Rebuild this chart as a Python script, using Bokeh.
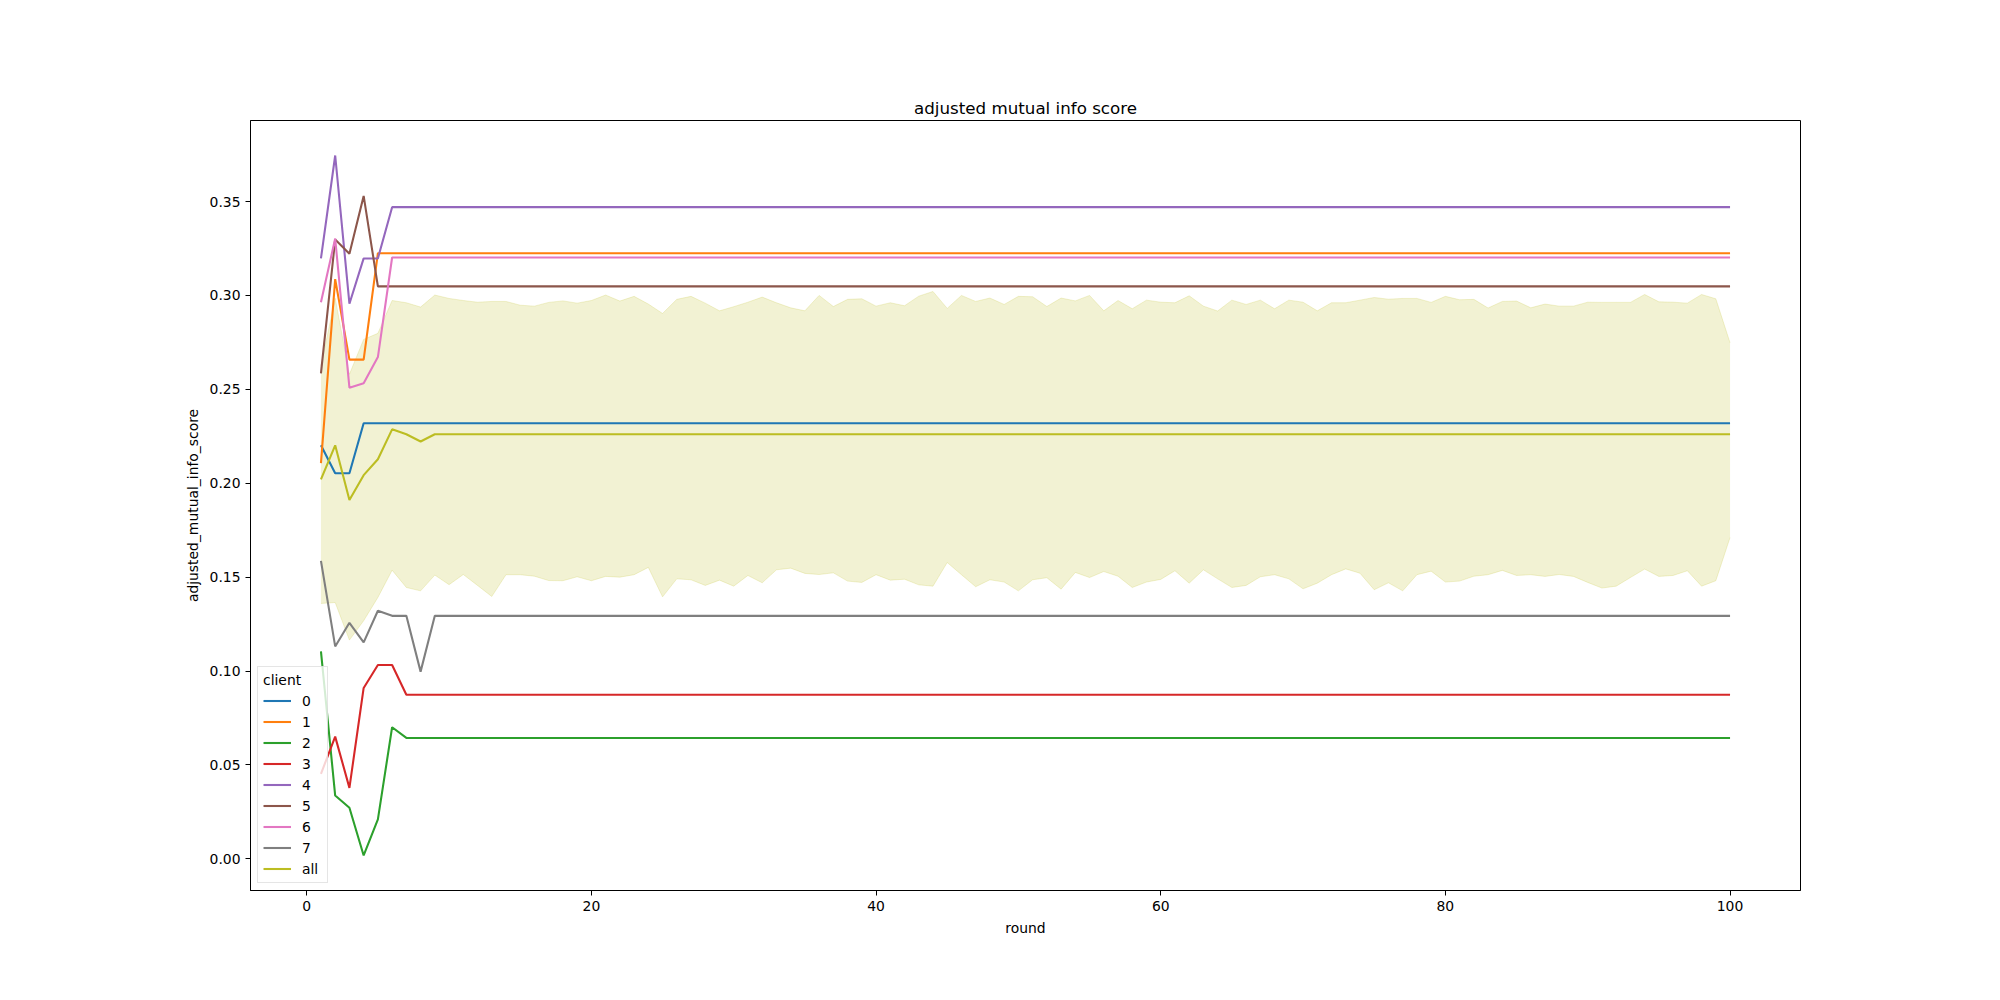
from bokeh.plotting import figure
from bokeh.models import Range1d, FixedTicker, NumeralTickFormatter, Legend, LegendItem, ColumnDataSource
from bokeh.embed import file_html
from bokeh.resources import INLINE

rounds = list(range(1, 101))

client_0 = [0.2202, 0.2053, 0.2053] + [0.2319] * 97
client_1 = [0.2107, 0.3087, 0.2658, 0.2658] + [0.3225] * 96
client_2 = [0.1105, 0.0337, 0.0272, 0.0018, 0.0210, 0.0701] + [0.0644] * 94
client_3 = [0.0453, 0.0651, 0.0378, 0.0910, 0.1032, 0.1032] + [0.0874] * 94
client_4 = [0.3197, 0.3745, 0.2956, 0.3197, 0.3197] + [0.3470] * 95
client_5 = [0.2585, 0.3298, 0.3222, 0.3530] + [0.3048] * 96
client_6 = [0.2964, 0.3303, 0.2509, 0.2532, 0.2672] + [0.3202] * 95
client_7 = [0.1587, 0.1131, 0.1257, 0.1153, 0.1321, 0.1294, 0.1294, 0.0997] + [0.1294] * 92
client_all = [0.2021, 0.2202, 0.1911, 0.2043, 0.2128, 0.2287, 0.2261, 0.2222] + [0.2261] * 92

band_upper = [
    0.2625, 0.2985, 0.2580, 0.2766, 0.2798, 0.2973, 0.2961, 0.2938, 0.3002, 0.2984,
    0.2973, 0.2964, 0.2968, 0.2968, 0.2948, 0.2943, 0.2963, 0.2971, 0.2959, 0.2973,
    0.3002, 0.2970, 0.2995, 0.2954, 0.2904, 0.2979, 0.2995, 0.2959, 0.2918, 0.2940,
    0.2964, 0.2991, 0.2961, 0.2934, 0.2918, 0.3000, 0.2941, 0.2979, 0.2982, 0.2943,
    0.2961, 0.2945, 0.2996, 0.3021, 0.2931, 0.3000, 0.2968, 0.2986, 0.2952, 0.2995,
    0.2993, 0.2941, 0.2986, 0.2971, 0.3000, 0.2918, 0.2973, 0.2929, 0.2975, 0.2964,
    0.2961, 0.2998, 0.2943, 0.2917, 0.2975, 0.2952, 0.2975, 0.2929, 0.2975, 0.2964,
    0.2918, 0.2961, 0.2961, 0.2975, 0.2989, 0.2980, 0.2984, 0.2984, 0.2963, 0.2995,
    0.2977, 0.2979, 0.2933, 0.2968, 0.2970, 0.2934, 0.2954, 0.2943, 0.2943, 0.2964,
    0.2963, 0.2963, 0.2963, 0.3005, 0.2966, 0.2964, 0.2959, 0.3005, 0.2982, 0.2748,
]
band_lower = [
    0.1360, 0.1365, 0.1165, 0.1268, 0.1392, 0.1537, 0.1445, 0.1427, 0.1511, 0.1460,
    0.1514, 0.1456, 0.1397, 0.1513, 0.1513, 0.1505, 0.1482, 0.1481, 0.1502, 0.1481,
    0.1504, 0.1500, 0.1513, 0.1552, 0.1395, 0.1491, 0.1486, 0.1456, 0.1484, 0.1452,
    0.1509, 0.1470, 0.1539, 0.1548, 0.1520, 0.1514, 0.1523, 0.1479, 0.1472, 0.1513,
    0.1484, 0.1489, 0.1459, 0.1452, 0.1578, 0.1513, 0.1449, 0.1486, 0.1474, 0.1427,
    0.1486, 0.1497, 0.1436, 0.1525, 0.1498, 0.1530, 0.1505, 0.1445, 0.1474, 0.1488,
    0.1534, 0.1468, 0.1539, 0.1491, 0.1445, 0.1456, 0.1502, 0.1513, 0.1491, 0.1438,
    0.1468, 0.1513, 0.1544, 0.1521, 0.1433, 0.1470, 0.1427, 0.1513, 0.1532, 0.1474,
    0.1479, 0.1505, 0.1513, 0.1536, 0.1509, 0.1513, 0.1504, 0.1514, 0.1504, 0.1472,
    0.1442, 0.1452, 0.1498, 0.1543, 0.1504, 0.1509, 0.1534, 0.1452, 0.1481, 0.1711,
]

labels = ["0", "1", "2", "3", "4", "5", "6", "7", "all"]
colors = ["#1f77b4", "#ff7f0e", "#2ca02c", "#d62728", "#9467bd",
          "#8c564b", "#e377c2", "#7f7f7f", "#bcbd22"]
series = [client_0, client_1, client_2, client_3, client_4,
          client_5, client_6, client_7, client_all]

FONT = "DejaVu Sans"

p = figure(width=2000, height=1000, output_backend="svg", toolbar_location=None,
           title="adjusted mutual info score",
           x_range=Range1d(-3.95, 104.95), y_range=Range1d(-0.01684, 0.39314),
           min_border_left=250, min_border_right=200,
           min_border_top=120, min_border_bottom=110)

p.background_fill_color = "white"
p.border_fill_color = "white"
p.outline_line_color = "black"
p.outline_line_width = 1
p.xgrid.visible = False
p.ygrid.visible = False

p.title.align = "center"
p.title.text_font = FONT
p.title.text_font_size = "16.7px"
p.title.text_font_style = "normal"
p.title.text_color = "black"
p.title.standoff = 6

for ax in (p.xaxis[0], p.yaxis[0]):
    ax.axis_line_color = "black"
    ax.axis_line_width = 1
    ax.major_tick_line_color = "black"
    ax.major_tick_line_width = 1
    ax.major_tick_out = 5
    ax.major_tick_in = 0
    ax.minor_tick_line_color = None
    ax.major_label_text_font = FONT
    ax.major_label_text_font_size = "13.9px"
    ax.major_label_text_color = "black"
    ax.major_label_standoff = 5
    ax.axis_label_text_font = FONT
    ax.axis_label_text_font_size = "13.9px"
    ax.axis_label_text_font_style = "normal"
    ax.axis_label_text_color = "black"
    ax.axis_label_standoff = 6

p.xaxis.axis_label = "round"
p.yaxis.axis_label = "adjusted_mutual_info_score"
p.xaxis.ticker = FixedTicker(ticks=[0, 20, 40, 60, 80, 100])
p.yaxis.ticker = FixedTicker(ticks=[0.0, 0.05, 0.10, 0.15, 0.20, 0.25, 0.30, 0.35])
p.yaxis.formatter = NumeralTickFormatter(format="0.00")

# confidence band of "all" drawn beneath every line
bsrc = ColumnDataSource(dict(x=rounds, lo=band_lower, hi=band_upper))
p.varea(x="x", y1="lo", y2="hi", source=bsrc, fill_color=colors[-1], fill_alpha=0.2)
p.line(x="x", y="hi", source=bsrc, line_color=colors[-1], line_alpha=0.2, line_width=1)
p.line(x="x", y="lo", source=bsrc, line_color=colors[-1], line_alpha=0.2, line_width=1)

items = []
for lab, col, ys in zip(labels, colors, series):
    src = ColumnDataSource(dict(x=rounds, y=ys))
    r = p.line(x="x", y="y", source=src, line_color=col, line_width=2.08)
    items.append(LegendItem(label=lab, renderers=[r]))

legend = Legend(items=items, location=(7, 7), title="client")
legend.margin = 0
legend.padding = 5
legend.spacing = 4
legend.label_height = 17
legend.glyph_height = 17
legend.glyph_width = 28
legend.label_standoff = 11
legend.label_text_font = FONT
legend.label_text_font_size = "13.9px"
legend.label_text_color = "black"
legend.title_text_font = FONT
legend.title_text_font_size = "13.9px"
legend.title_text_font_style = "normal"
legend.title_text_color = "black"
legend.title_standoff = 4
legend.border_line_color = "#cccccc"
legend.border_line_width = 1
legend.background_fill_color = "white"
legend.background_fill_alpha = 0.8
p.add_layout(legend, "center")

open("out.html", "w").write(file_html(p, INLINE))
